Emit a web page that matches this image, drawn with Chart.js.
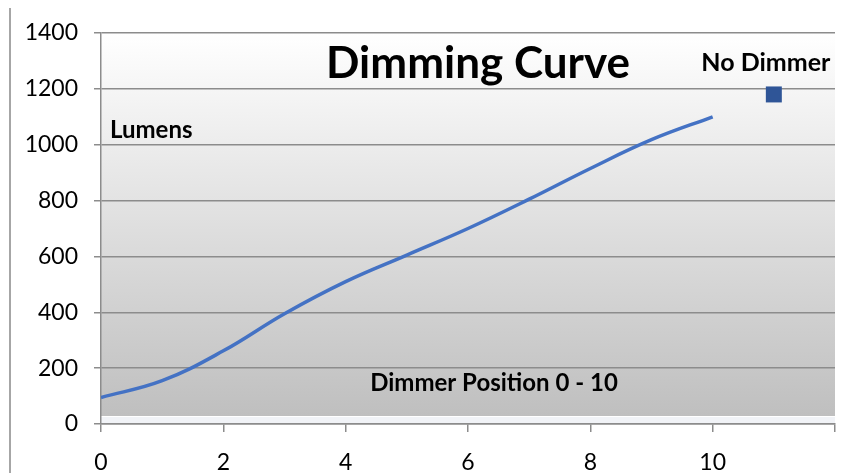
<!DOCTYPE html>
<html>
<head>
<meta charset="utf-8">
<script src="https://cdn.jsdelivr.net/npm/chart.js@4"></script>
<style>
    html, body { margin: 0; padding: 0; background: #ffffff; }
    #wrap { width: 855px; height: 473px; position: relative; }
</style>
</head>
<body>
<div id="wrap"><canvas id="chart" width="855" height="473"></canvas></div>
<script>
// Dimmer position (x) and light output (y)
const positions = [0, 1, 2, 3, 4, 5, 6, 7, 8, 9, 10];
const lumens = [95, 155, 262, 395, 510, 605, 700, 805, 915, 1018, 1100];

const noDimmerPosition = [11];
const noDimmerLumens = [1180];

const xTicks = [0, 2, 4, 6, 8, 10, 12];
const yTicks = [0, 200, 400, 600, 800, 1000, 1200, 1400];

const FONT = 'Lato, "Open Sans", sans-serif';
const GRID = '#8c8c8c';

// plot area fill, frame line and the text boxes sitting on the chart
const decorations = {
    id: 'decorations',
    beforeDraw(chart) {
        const { ctx, chartArea: a } = chart;
        ctx.save();
        const g = ctx.createLinearGradient(0, a.top, 0, a.bottom - 8);
        g.addColorStop(0, '#ffffff');
        g.addColorStop(1, '#bfbfbf');
        ctx.fillStyle = g;
        ctx.fillRect(a.left, a.top, a.right - a.left, a.bottom - 8 - a.top);
        ctx.fillStyle = '#f1f3f7';
        ctx.fillRect(a.left, a.bottom - 7, a.right - a.left, 7);
        // outer frame edge on the left
        ctx.fillStyle = '#a6a6a6';
        ctx.fillRect(9, 8, 2, chart.height - 8);
        ctx.restore();
    },
    afterDraw(chart) {
        const { ctx, chartArea: a, scales } = chart;
        ctx.save();
        ctx.fillStyle = '#000000';
        ctx.textBaseline = 'middle';

        ctx.textAlign = 'center';
        ctx.font = `bold 44px ${FONT}`;
        ctx.fillText('Dimming Curve', a.left + 377, a.top + 31);

        ctx.font = `bold 25px ${FONT}`;
        const px = scales.x.getPixelForValue(noDimmerPosition[0]);
        const py = scales.y.getPixelForValue(noDimmerLumens[0]);
        ctx.fillText('No Dimmer', px - 8, py - 32);

        ctx.font = `bold 24px ${FONT}`;
        ctx.fillText('Dimmer Position 0 - 10', a.left + 393, a.bottom - 41);

        ctx.textAlign = 'left';
        ctx.font = `bold 24px ${FONT}`;
        ctx.fillText('Lumens', a.left + 9, a.top + 97);
        ctx.restore();
    }
};

new Chart(document.getElementById('chart'), {
    type: 'scatter',
    data: {
        datasets: [
            {
                label: 'Lumens',
                data: positions.map((p, i) => ({ x: p, y: lumens[i] })),
                showLine: true,
                borderColor: '#4472c4',
                borderWidth: 3.5,
                tension: 0.4,
                pointRadius: 0,
                pointHoverRadius: 0
            },
            {
                label: 'No Dimmer',
                data: noDimmerPosition.map((p, i) => ({ x: p, y: noDimmerLumens[i] })),
                pointStyle: 'rect',
                pointRadius: 11.3,
                backgroundColor: '#2f5597',
                borderColor: '#2f5597',
                borderWidth: 0
            }
        ]
    },
    options: {
        responsive: false,
        animation: false,
        events: [],
        layout: {
            padding: { top: 33, right: 20, left: 0, bottom: 0 }
        },
        plugins: {
            legend: { display: false },
            tooltip: { enabled: false }
        },
        scales: {
            x: {
                type: 'linear',
                min: 0,
                max: 12,
                afterBuildTicks: scale => {
                    scale.ticks = xTicks.map(v => ({ value: v }));
                },
                afterFit: scale => {
                    scale.height = 49;
                },
                ticks: {
                    color: '#000000',
                    font: { family: FONT, size: 23 },
                    padding: 17,
                    maxRotation: 0,
                    callback: v => (v === 12 ? '' : String(v))
                },
                grid: {
                    drawOnChartArea: false,
                    drawTicks: true,
                    tickLength: 8,
                    color: GRID,
                    lineWidth: 1.5
                },
                border: { color: GRID, width: 1.5 }
            },
            y: {
                min: 0,
                max: 1400,
                afterBuildTicks: scale => {
                    scale.ticks = yTicks.map(v => ({ value: v }));
                },
                afterFit: scale => {
                    scale.width = 101;
                },
                ticks: {
                    color: '#000000',
                    font: { family: FONT, size: 23 },
                    padding: 16,
                    callback: v => String(v)
                },
                grid: {
                    color: GRID,
                    lineWidth: 1.5,
                    tickLength: 7
                },
                border: { color: GRID, width: 1.5 }
            }
        }
    },
    plugins: [decorations]
});
</script>
</body>
</html>
